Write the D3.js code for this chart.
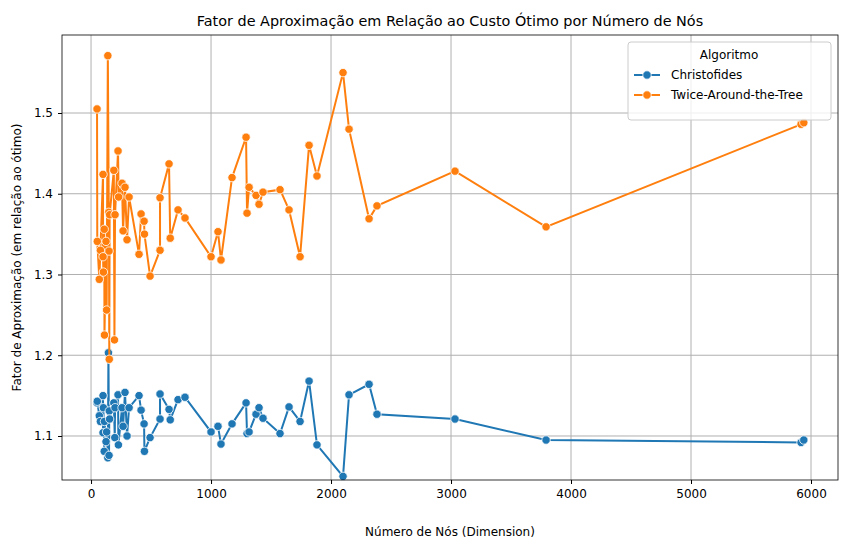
<!DOCTYPE html>
<html><head><meta charset="utf-8">
<script src="https://cdn.jsdelivr.net/npm/d3@7"></script>
<style>body{margin:0;background:#fff;font-family:"DejaVu Sans",sans-serif;}</style>
</head><body>
<script>
// nodes and approximation factor per algorithm
const xsChris = [50,52,69,78,100,100,103,110,112,125,130,140,145,150,152,155,190,198,200,225,228,258,267,283,300,317,400,417,442,445,492,575,575,650,660,725,783,1000,1058,1083,1175,1292,1300,1317,1375,1400,1433,1575,1650,1742,1817,1883,2100,2150,2317,2383,3033,3792,5917,5940];
const ysChris = [1.141,1.143,1.125,1.118,1.150,1.104,1.135,1.081,1.118,1.093,1.105,1.073,1.203,1.076,1.131,1.121,1.141,1.098,1.135,1.151,1.089,1.135,1.112,1.154,1.100,1.135,1.150,1.132,1.115,1.081,1.098,1.121,1.152,1.133,1.120,1.145,1.148,1.105,1.112,1.090,1.115,1.141,1.103,1.105,1.127,1.135,1.122,1.103,1.136,1.118,1.168,1.089,1.050,1.151,1.164,1.127,1.121,1.095,1.092,1.095];
const xsTwice = [50,52,69,78,100,100,103,110,112,125,130,140,148,150,152,155,190,195,200,225,230,258,267,283,300,317,400,417,442,445,492,575,575,650,660,725,783,1000,1058,1083,1175,1292,1300,1317,1375,1400,1433,1575,1650,1742,1817,1883,2100,2150,2317,2383,3033,3792,5917,5940];
const ysTwice = [1.505,1.341,1.294,1.330,1.424,1.322,1.303,1.356,1.225,1.341,1.256,1.571,1.377,1.329,1.195,1.374,1.429,1.219,1.374,1.453,1.396,1.413,1.354,1.408,1.343,1.396,1.325,1.375,1.366,1.350,1.298,1.330,1.395,1.437,1.345,1.380,1.370,1.322,1.353,1.318,1.420,1.470,1.376,1.408,1.398,1.387,1.402,1.405,1.380,1.322,1.460,1.422,1.550,1.480,1.369,1.385,1.428,1.359,1.486,1.488];
const seriesNames = ["Christofides","Twice-Around-the-Tree"];
const colors = ["#1f77b4","#ff7f0e"];
const xTicks = [0,1000,2000,3000,4000,5000,6000];
const yTicks = [1.1,1.2,1.3,1.4,1.5];

const W = 846, H = 550;
const m = {left:62, right:8, top:35, bottom:70};
const svg = d3.select("body").append("svg").attr("width",W).attr("height",H);
const x = d3.scaleLinear().domain([-242,6225]).range([m.left, W-m.right]);
const y = d3.scaleLinear().domain([1.0455,1.5966]).range([H-m.bottom, m.top]);

// grid
svg.append("g").selectAll("line").data(xTicks).join("line")
  .attr("x1",d=>x(d)).attr("x2",d=>x(d)).attr("y1",m.top).attr("y2",H-m.bottom)
  .attr("stroke","#b0b0b0").attr("stroke-width",1);
svg.append("g").selectAll("line").data(yTicks).join("line")
  .attr("y1",d=>y(d)).attr("y2",d=>y(d)).attr("x1",m.left).attr("x2",W-m.right)
  .attr("stroke","#b0b0b0").attr("stroke-width",1);

const series = [
  xsChris.map((v,i)=>({x:v,y:ysChris[i]})),
  xsTwice.map((v,i)=>({x:v,y:ysTwice[i]}))
];
const line = d3.line().x(d=>x(d.x)).y(d=>y(d.y));
series.forEach((s,k)=>{
  svg.append("path").datum(s).attr("d",line).attr("fill","none")
    .attr("stroke",colors[k]).attr("stroke-width",2);
  svg.append("g").selectAll("circle").data(s).join("circle")
    .attr("cx",d=>x(d.x)).attr("cy",d=>y(d.y)).attr("r",4.2)
    .attr("fill",colors[k]).attr("stroke","#fff").attr("stroke-width",0.8);
});

// axes
const xAxis = svg.append("g").attr("transform",`translate(0,${H-m.bottom})`)
  .call(d3.axisBottom(x).tickValues(xTicks).tickSize(4).tickPadding(5).tickFormat(d3.format("d")));
const yAxis = svg.append("g").attr("transform",`translate(${m.left},0)`)
  .call(d3.axisLeft(y).tickValues(yTicks).tickSize(4).tickPadding(5).tickFormat(d3.format(".1f")));
[xAxis,yAxis].forEach(a=>{
  a.select(".domain").remove();
  a.selectAll("text").attr("font-size",12).attr("font-family","DejaVu Sans").attr("fill","#000");
});
svg.append("rect").attr("x",m.left).attr("y",m.top).attr("width",W-m.left-m.right)
  .attr("height",H-m.top-m.bottom).attr("fill","none").attr("stroke","#000").attr("stroke-width",0.8);

// labels
svg.append("text").attr("x",(m.left+W-m.right)/2).attr("y",26).attr("text-anchor","middle")
  .attr("font-size",14.4).text("Fator de Aproximação em Relação ao Custo Ótimo por Número de Nós");
svg.append("text").attr("x",(m.left+W-m.right)/2).attr("y",H-m.bottom+56).attr("text-anchor","middle")
  .attr("font-size",12).text("Número de Nós (Dimension)");
svg.append("text").attr("transform",`translate(21,${(m.top+H-m.bottom)/2}) rotate(-90)`)
  .attr("text-anchor","middle").attr("font-size",12).text("Fator de Aproximação (em relação ao ótimo)");

// legend
const lg = svg.append("g").attr("transform","translate(628,42)");
lg.append("rect").attr("width",203).attr("height",78).attr("rx",3).attr("fill","#fff")
  .attr("fill-opacity",0.8).attr("stroke","#ccc");
lg.append("text").attr("x",101).attr("y",17).attr("text-anchor","middle").attr("font-size",12).text("Algoritmo");
seriesNames.forEach((n,i)=>{
  const yy = 33+i*20;
  lg.append("line").attr("x1",6).attr("x2",32).attr("y1",yy).attr("y2",yy).attr("stroke",colors[i]).attr("stroke-width",2);
  lg.append("circle").attr("cx",19).attr("cy",yy).attr("r",4.2).attr("fill",colors[i]).attr("stroke","#fff").attr("stroke-width",0.8);
  lg.append("text").attr("x",43).attr("y",yy+4).attr("font-size",12).text(n);
});
</script>
</body></html>
